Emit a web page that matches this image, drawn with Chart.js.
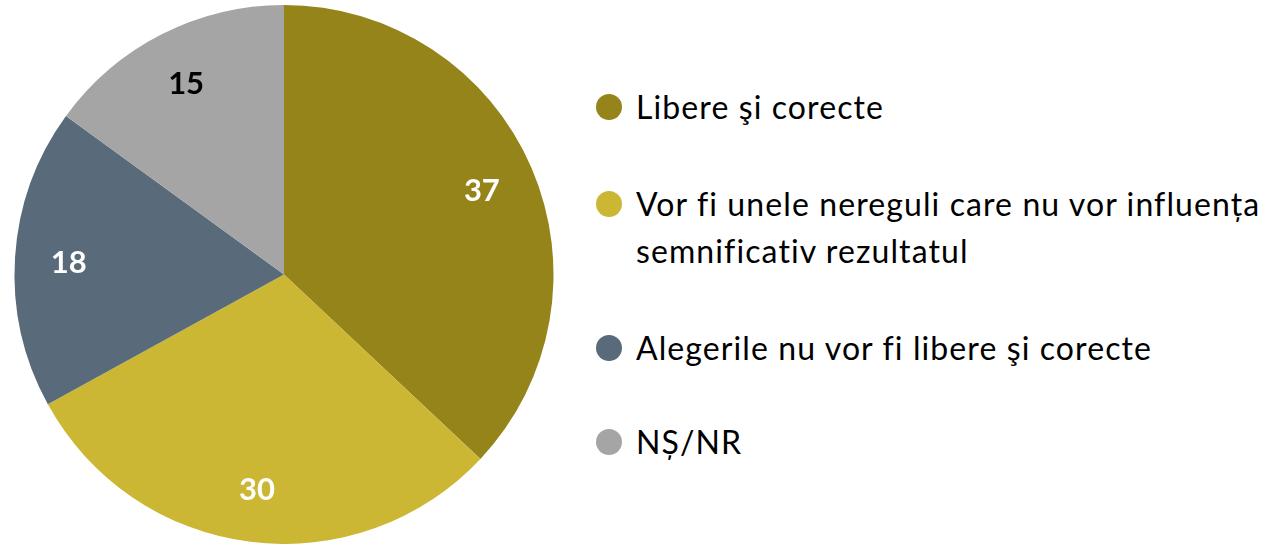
<!DOCTYPE html>
<html>
<head>
<meta charset="utf-8">
<script src="https://cdn.jsdelivr.net/npm/chart.js@4"></script>
<style>
    body { margin: 0; background: #fff; width: 1271px; height: 544px; overflow: hidden; position: relative; }
    #wrap { position: absolute; left: 0; top: 0; width: 568px; height: 544px; }
    #legend { position: absolute; left: 596px; top: 0; font-family: Lato, "Noto Sans", sans-serif; font-size: 32px; letter-spacing: 1.1px; color: #000; }
    .item { position: absolute; left: 0; display: flex; align-items: flex-start; width: 720px; }
    .dot { width: 26px; height: 26px; border-radius: 50%; flex: none; margin-top: 11px; margin-right: 14px; }
    .txt { line-height: 47px; width: 660px; }
</style>
</head>
<body>
<div id="wrap"><canvas id="pie"></canvas></div>
<div id="legend"></div>
<script>
const labels = [
    'Libere şi corecte',
    'Vor fi unele nereguli care nu vor influența semnificativ rezultatul',
    'Alegerile nu vor fi libere şi corecte',
    'NȘ/NR'
];
const values = [37, 30, 18, 15];
const sliceColors = ['#958419', '#CBB733', '#596A7B', '#A5A5A5'];
const labelColors = ['#fff', '#fff', '#fff', '#000'];
const legendTops = [83, 180, 324, 418]; // top of each legend row

// Draw the value inside each slice
const sliceLabels = {
    id: 'sliceLabels',
    afterDatasetsDraw(chart) {
        const ctx = chart.ctx;
        const meta = chart.getDatasetMeta(0);
        ctx.save();
        ctx.font = 'bold 31px Lato, "Noto Sans", sans-serif';
        ctx.textAlign = 'center';
        ctx.textBaseline = 'middle';
        meta.data.forEach((arc, i) => {
            const mid = (arc.startAngle + arc.endAngle) / 2;
            const r = arc.outerRadius * 0.8;
            ctx.fillStyle = labelColors[i];
            ctx.fillText(values[i], arc.x + Math.cos(mid) * r, arc.y + Math.sin(mid) * r + 2);
        });
        ctx.restore();
    }
};

new Chart(document.getElementById('pie'), {
    type: 'pie',
    data: {
        labels: labels,
        datasets: [{
            data: values,
            backgroundColor: sliceColors,
            borderWidth: 0
        }]
    },
    options: {
        responsive: true,
        maintainAspectRatio: false,
        animation: false,
        layout: { padding: { top: 5, bottom: 0, left: 0, right: 0 } },
        plugins: {
            legend: { display: false },
            tooltip: { enabled: false }
        }
    },
    plugins: [sliceLabels]
});

// HTML legend so the long label can wrap
const legend = document.getElementById('legend');
labels.forEach((label, i) => {
    const item = document.createElement('div');
    item.className = 'item';
    item.style.top = legendTops[i] + 'px';
    item.innerHTML = `<span class="dot" style="background:${sliceColors[i]}"></span><span class="txt">${label}</span>`;
    legend.appendChild(item);
});
</script>
</body>
</html>
